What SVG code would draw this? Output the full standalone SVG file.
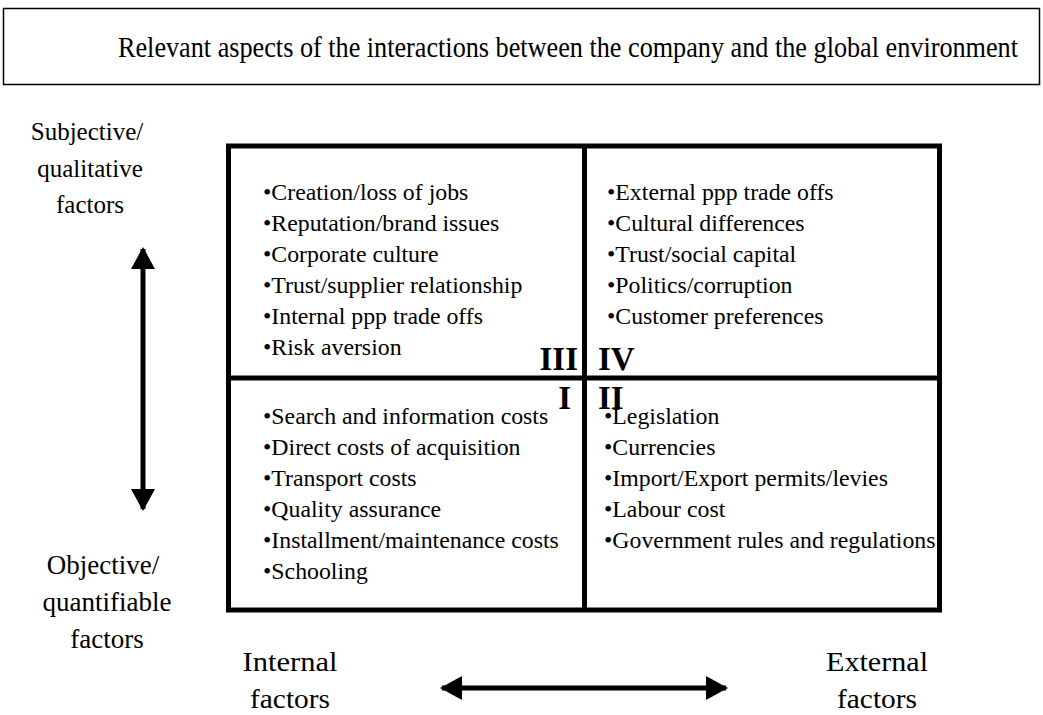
<svg xmlns="http://www.w3.org/2000/svg" width="1043" height="715" viewBox="0 0 1043 715" font-family="'Liberation Serif', 'DejaVu Serif', serif">
<defs>
<style>
text{font-family:'Liberation Serif','DejaVu Serif',serif;fill:#000}
.item{font-size:23.8px}
.num{font-size:33px;font-weight:bold}
.side{font-size:25px;text-anchor:middle}
.side2{font-size:27px;text-anchor:middle}
.axis{font-size:28px;text-anchor:middle}
.grid{fill:none;stroke:#000;stroke-width:5}
.arrow{stroke:#000;stroke-width:5;fill:none}
</style>
<marker id="ah" viewBox="0 0 22 24" refX="20" refY="12" markerWidth="22" markerHeight="24" markerUnits="userSpaceOnUse" orient="auto-start-reverse">
<path d="M0,0 L22,12 L0,24 Z" fill="#000"/>
</marker>
</defs>
<rect width="1043" height="715" fill="#fff"/>
<g id="title">
<rect x="3.5" y="8.5" width="1036" height="76" fill="#fff" stroke="#000" stroke-width="1.5"/>
<text x="568" y="57" font-size="29" text-anchor="middle" textLength="900" lengthAdjust="spacingAndGlyphs">Relevant aspects of the interactions between the company and the global environment</text>
</g>
<g id="grid">
<rect class="grid" x="228.5" y="146" width="711" height="464"/>
<line class="grid" x1="584.5" y1="146" x2="584.5" y2="610"/>
<line class="grid" x1="228.5" y1="378" x2="939.5" y2="378"/>
</g>
<g id="q3">
<text class="item" x="263" y="200">•Creation/loss of jobs</text>
<text class="item" x="263" y="231">•Reputation/brand issues</text>
<text class="item" x="263" y="262">•Corporate culture</text>
<text class="item" x="263" y="293">•Trust/supplier relationship</text>
<text class="item" x="263" y="324">•Internal ppp trade offs</text>
<text class="item" x="263" y="355">•Risk aversion</text>
<text class="num" x="578" y="370" text-anchor="end">III</text>
</g>
<g id="q4">
<text class="item" x="607" y="200">•External ppp trade offs</text>
<text class="item" x="607" y="231">•Cultural differences</text>
<text class="item" x="607" y="262">•Trust/social capital</text>
<text class="item" x="607" y="293">•Politics/corruption</text>
<text class="item" x="607" y="324">•Customer preferences</text>
<text class="num" x="598" y="370">IV</text>
</g>
<g id="q1">
<text class="num" x="571" y="409" text-anchor="end">I</text>
<text class="item" x="263" y="424">•Search and information costs</text>
<text class="item" x="263" y="455">•Direct costs of acquisition</text>
<text class="item" x="263" y="486">•Transport costs</text>
<text class="item" x="263" y="517">•Quality assurance</text>
<text class="item" x="263" y="548">•Installment/maintenance costs</text>
<text class="item" x="263" y="579">•Schooling</text>
</g>
<g id="q2">
<text class="num" x="598" y="409">II</text>
<text class="item" x="604" y="424">•Legislation</text>
<text class="item" x="604" y="455">•Currencies</text>
<text class="item" x="604" y="486">•Import/Export permits/levies</text>
<text class="item" x="604" y="517">•Labour cost</text>
<text class="item" x="604" y="548">•Government rules and regulations</text>
</g>
<g id="subjective">
<text class="side" x="87" y="140">Subjective/</text>
<text class="side" x="90" y="177">qualitative</text>
<text class="side" x="90" y="213">factors</text>
</g>
<g id="objective">
<text class="side2" x="103" y="574">Objective/</text>
<text class="side2" x="107" y="611">quantifiable</text>
<text class="side2" x="107" y="648">factors</text>
</g>
<g id="internal">
<text class="axis" x="290" y="671" textLength="95" lengthAdjust="spacingAndGlyphs">Internal</text>
<text class="axis" x="290" y="708" textLength="80" lengthAdjust="spacingAndGlyphs">factors</text>
</g>
<g id="external">
<text class="axis" x="877" y="671" textLength="102" lengthAdjust="spacingAndGlyphs">External</text>
<text class="axis" x="877" y="708" textLength="80" lengthAdjust="spacingAndGlyphs">factors</text>
</g>
<g id="connectors">
<line class="arrow" x1="143" y1="249" x2="143" y2="509" marker-start="url(#ah)" marker-end="url(#ah)"/>
<line class="arrow" x1="442" y1="688" x2="726" y2="688" marker-start="url(#ah)" marker-end="url(#ah)"/>
</g>
</svg>
